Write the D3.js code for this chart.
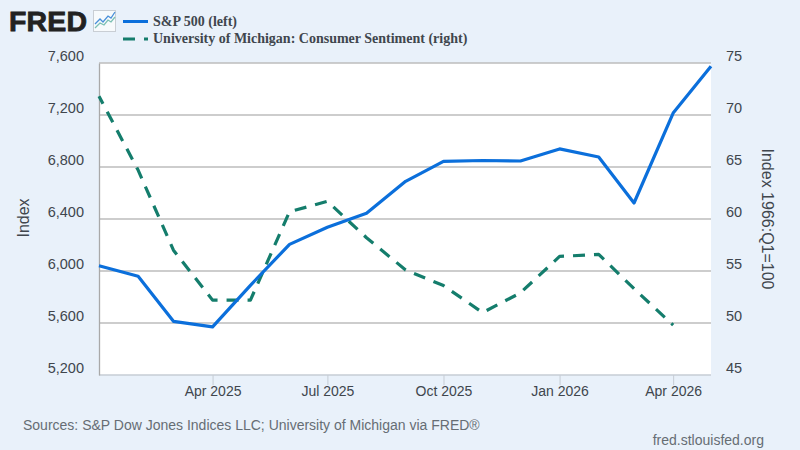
<!DOCTYPE html>
<html>
<head>
<meta charset="utf-8">
<script src="https://cdn.jsdelivr.net/npm/d3@7"></script>
<style>
  html, body { margin: 0; padding: 0; background: #e9f1fa; overflow: hidden; }
  text { font-family: "Liberation Sans", Arial, sans-serif; }
</style>
</head>
<body>
<script>
// monthly values
const months = ["2025-01","2025-02","2025-03","2025-04","2025-05","2025-06","2025-07","2025-08","2025-09","2025-10","2025-11","2025-12","2026-01","2026-02","2026-03","2026-04","2026-05"];
const sp500 = [6040,5960,5613,5570,5890,6205,6336,6444,6690,6843,6850,6846,6939,6877,6523,7215,7575];
const sentiment = [71.8,64.7,57.0,52.2,52.2,60.7,61.7,58.2,55.1,53.6,51.0,52.9,56.4,56.6,53.3,49.8];
const leftTicks = [5200,5600,6000,6400,6800,7200,7600];
const rightTicks = [45,50,55,60,65,70,75];
const dateTicks = ["2025-04","2025-07","2025-10","2026-01","2026-04"];
const legendLabels = ["S&P 500 (left)","University of Michigan: Consumer Sentiment (right)"];

const parseMonth = d3.timeParse("%Y-%m");
const margin = { top: 63, right: 89, bottom: 75, left: 99 };
const width = 800 - margin.left - margin.right;
const height = 450 - margin.top - margin.bottom;
const blue = "#0b6fdb", green = "#147d6c", textCol = "#40464d";

const svg = d3.select("body").append("svg")
  .attr("width", 800).attr("height", 450).style("display", "block");

svg.append("rect").attr("width", 800).attr("height", 450).attr("fill", "#e9f1fa");

const g = svg.append("g").attr("transform", `translate(${margin.left}, ${margin.top})`);
g.append("rect").attr("width", width).attr("height", height).attr("fill", "#fff");

const x = d3.scaleTime().domain([parseMonth("2025-01"), parseMonth("2026-05")]).range([0, width]);
const yL = d3.scaleLinear().domain([5200, 7600]).range([height, 0]);
const yR = d3.scaleLinear().domain([45, 75]).range([height, 0]);

// gridlines
g.selectAll(".grid").data(leftTicks).enter().append("line")
  .attr("x1", 0).attr("x2", width)
  .attr("y1", d => yL(d)).attr("y2", d => yL(d))
  .attr("stroke", d => d === 5200 ? "#c6ccd4" : "#bcbcbc").attr("stroke-width", 1.5);

// left axis
const axisL = g.append("g").call(d3.axisLeft(yL).tickValues(leftTicks).tickFormat(d3.format(",")).tickSize(0).tickPadding(15));
axisL.select(".domain").attr("stroke", "#a9a9a9").attr("stroke-width", 1.3);
axisL.selectAll("text").attr("dy", "-0.17em");

// right axis
const axisR = g.append("g").attr("transform", `translate(${width}, 0)`)
  .call(d3.axisRight(yR).tickValues(rightTicks).tickSize(0).tickPadding(15));
axisR.select(".domain").remove();
axisR.selectAll("text").attr("dy", "-0.17em");

// bottom axis
const axisB = g.append("g").attr("transform", `translate(0, ${height})`)
  .call(d3.axisBottom(x).tickValues(dateTicks.map(parseMonth)).tickFormat(d3.timeFormat("%b %Y")).tickSize(10).tickPadding(0));
axisB.select(".domain").remove();
axisB.selectAll("line").attr("stroke", "#c6ccd4");
axisB.selectAll("text").attr("dy", "0.78em");

svg.selectAll(".tick text").attr("font-size", 14.5).attr("fill", textCol)
  .style("font-family", '"Liberation Sans", Arial, sans-serif');
axisB.selectAll("text").attr("font-size", 14);

// lines
const lineL = d3.line().x((d, i) => x(parseMonth(months[i]))).y(d => yL(d));
const lineR = d3.line().x((d, i) => x(parseMonth(months[i]))).y(d => yR(d));

g.append("path").datum(sentiment).attr("d", lineR)
  .attr("fill", "none").attr("stroke", green).attr("stroke-width", 3.2)
  .attr("stroke-dasharray", "12,9").attr("stroke-dashoffset", 3.5).attr("stroke-linejoin", "round");
g.append("path").datum(sp500).attr("d", lineL)
  .attr("fill", "none").attr("stroke", blue).attr("stroke-width", 3.2)
  .attr("stroke-linejoin", "round");

// axis titles
svg.append("text").attr("transform", "translate(29, 218) rotate(-90)")
  .attr("text-anchor", "middle").attr("font-size", 16).attr("fill", textCol).text("Index");
svg.append("text").attr("transform", "translate(762, 219) rotate(90)")
  .attr("text-anchor", "middle").attr("font-size", 16).attr("fill", textCol).text("Index 1966:Q1=100");

// logo
svg.append("text").attr("x", 9).attr("y", 31).attr("font-size", 28.5).attr("font-weight", 700)
  .attr("fill", "#222").attr("stroke", "#222").attr("stroke-width", 0.8).attr("textLength", 78).text("FRED");
const icon = svg.append("g").attr("transform", "translate(93, 10)");
icon.append("rect").attr("x", 0.5).attr("y", 0.5).attr("width", 22).attr("height", 21)
  .attr("fill", "#f7fafc").attr("stroke", "#c9ced4");
icon.append("path").attr("d", "M2,14 L7,9 L10,12 L15,6 L18,8 L22,2").attr("fill", "none").attr("stroke", "#4a90d9").attr("stroke-width", 1.3);
icon.append("path").attr("d", "M2,18 L7,13 L11,15 L15,10 L18,12 L22,7").attr("fill", "none").attr("stroke", "#7cc0b4").attr("stroke-width", 1.3);

// legend
const legend = svg.append("g").attr("font-weight", 700);
legend.append("line").attr("x1", 123).attr("x2", 148).attr("y1", 21.5).attr("y2", 21.5)
  .attr("stroke", blue).attr("stroke-width", 3);
legend.append("line").attr("x1", 123).attr("x2", 148).attr("y1", 39).attr("y2", 39)
  .attr("stroke", green).attr("stroke-width", 3).attr("stroke-dasharray", "12,9");
legend.selectAll(".lab").data(legendLabels).enter().append("text")
  .attr("x", 153).attr("y", (d, i) => 25.5 + i * 17)
  .attr("font-size", 14).attr("fill", textCol)
  .style("font-family", '"Liberation Serif", "Times New Roman", serif')
  .text(d => d);

// footer
svg.append("text").attr("x", 23).attr("y", 430).attr("font-size", 14).attr("fill", "#666d74")
  .text("Sources: S&P Dow Jones Indices LLC; University of Michigan via FRED®");
svg.append("text").attr("x", 764).attr("y", 445).attr("text-anchor", "end").attr("font-size", 14).attr("fill", "#666d74")
  .text("fred.stlouisfed.org");
</script>
</body>
</html>
